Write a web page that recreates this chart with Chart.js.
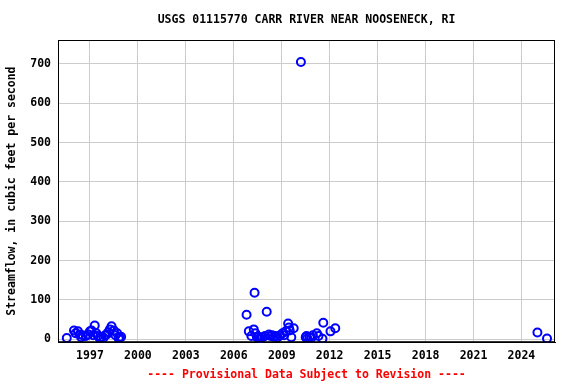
<!DOCTYPE html>
<html lang="en">
<head>
  <meta charset="UTF-8">
  <title>USGS 01115770 CARR RIVER NEAR NOOSENECK, RI</title>
  <script src="https://cdn.jsdelivr.net/npm/chart.js"></script>
  <style>
    html, body { margin: 0; padding: 0; background: #fff; overflow: hidden; }
    #flowChart { display: block; }
  </style>
</head>
<body>
  <canvas id="flowChart" width="576" height="384"></canvas>
  <script>
    const dates = [
      1995.55, 1996.0, 1996.1, 1996.25, 1996.35, 1996.45, 1996.55, 1996.75, 1996.9, 1997.0,
      1997.1, 1997.2, 1997.3, 1997.4, 1997.5, 1997.6, 1997.7, 1997.85, 1997.95, 1998.05,
      1998.15, 1998.25, 1998.35, 1998.5, 1998.6, 1998.7, 1998.8, 1998.85, 1998.95,
      2006.8, 2006.94, 2007.1, 2007.25, 2007.3, 2007.35, 2007.45, 2007.55, 2007.6, 2007.7,
      2007.8, 2007.95, 2008.06, 2008.2, 2008.3, 2008.4, 2008.5, 2008.6, 2008.75, 2008.9,
      2009.05, 2009.15, 2009.25, 2009.4, 2009.45, 2009.5, 2009.6, 2009.75, 2010.2, 2010.5,
      2010.55, 2010.6, 2010.75, 2010.85, 2010.95, 2011.2, 2011.3, 2011.55, 2011.6, 2012.05,
      2012.35,
      2025.0, 2025.6
    ];
    const flows = [
      3, 22, 15, 20, 12, 5, 10, 8, 12, 20,
      22, 10, 35, 15, 8, 3, 5, 4, 10, 12,
      18, 25, 33, 22, 10, 15, 2, 5, 6,
      62, 20, 8, 25, 118, 15, 5, 6, 2, 2,
      5, 8, 70, 12, 8, 10, 6, 8, 5, 10,
      15, 10, 20, 40, 30, 22, 5, 28, 705, 5,
      8, 2, 5, 3, 10, 15, 8, 1, 42, 20,
      28,
      17, 2
    ];
    const yearTicks = [1997, 2000, 2003, 2006, 2009, 2012, 2015, 2018, 2021, 2024];
    const flowTicks = [0, 100, 200, 300, 400, 500, 600, 700];

    const points = dates.map((d, i) => ({ x: d, y: flows[i] }));
    const monoFont = { family: 'DejaVu Sans Mono', size: 11.5, weight: 'bold' };

    new Chart(document.getElementById('flowChart'), {
      type: 'scatter',
      data: {
        datasets: [{
          data: points,
          pointStyle: 'circle',
          pointRadius: 4,
          pointBorderWidth: 2,
          borderColor: '#0000ff',
          backgroundColor: 'rgba(0,0,0,0)'
        }]
      },
      options: {
        responsive: false,
        animation: false,
        devicePixelRatio: 1,
        layout: { padding: { top: 0, right: 21, bottom: 0, left: 0 } },
        plugins: {
          legend: { display: false },
          tooltip: { enabled: false },
          title: {
            display: true,
            fullSize: false,
            text: 'USGS 01115770 CARR RIVER NEAR NOOSENECK, RI',
            color: '#000',
            font: monoFont,
            padding: { top: 13, bottom: 13.2 }
          },
          subtitle: {
            display: true,
            position: 'bottom',
            fullSize: false,
            text: '---- Provisional Data Subject to Revision ----',
            color: '#ff0000',
            font: monoFont,
            padding: { top: 0, bottom: 2 }
          }
        },
        scales: {
          x: {
            type: 'linear',
            min: 1995.0,
            max: 2026.1,
            afterBuildTicks: s => { s.ticks = yearTicks.map(v => ({ value: v })); },
            afterFit: s => { s.height = 26; },
            ticks: {
              color: '#000',
              font: monoFont,
              padding: 7,
              maxRotation: 0,
              autoSkip: false,
              callback: v => String(v)
            },
            grid: { color: '#cccccc', drawTicks: false },
            border: { color: '#000', width: 1 }
          },
          y: {
            min: -7.6,
            max: 761,
            afterBuildTicks: s => { s.ticks = flowTicks.map(v => ({ value: v })); },
            afterFit: s => { s.width = 58; },
            ticks: {
              color: '#000',
              font: monoFont,
              padding: 7,
              autoSkip: false,
              callback: v => String(v)
            },
            grid: { color: '#cccccc', drawTicks: false },
            border: { color: '#000', width: 1 },
            title: {
              display: true,
              text: 'Streamflow, in cubic feet per second',
              color: '#000',
              font: monoFont,
              padding: { top: 5, bottom: 0 }
            }
          }
        }
      },
      plugins: [{
        id: 'frame',
        afterDraw(chart) {
          const { ctx, chartArea: a } = chart;
          ctx.save();
          ctx.strokeStyle = '#000';
          ctx.lineWidth = 1;
          ctx.strokeRect(a.left + 0.5, a.top + 0.5, a.right - a.left - 1, a.bottom - a.top - 1);
          ctx.restore();
        }
      }]
    });
  </script>
</body>
</html>
